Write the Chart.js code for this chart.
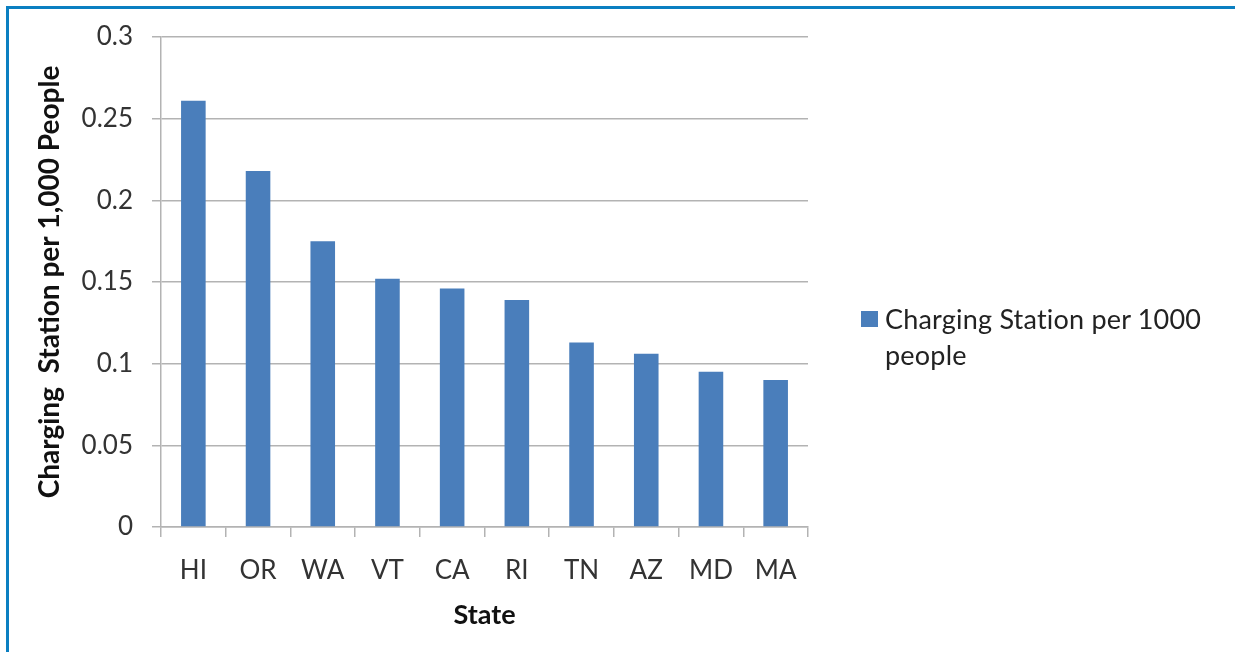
<!DOCTYPE html>
<html>
<head>
<meta charset="utf-8">
<script src="https://cdn.jsdelivr.net/npm/chart.js@4.4.0/dist/chart.umd.min.js"></script>
<style>
  html, body { margin: 0; padding: 0; background: #fff; }
  #wrap { position: relative; width: 1235px; height: 652px; overflow: hidden; }
  #frame { position: absolute; left: 6px; top: 6px; width: 1300px; height: 700px;
           border-top: 3px solid #0b7fc1; border-left: 3px solid #0b7fc1; box-sizing: border-box; }
  canvas { position: absolute; left: 0; top: 0; }
  #legend { position: absolute; left: 861px; top: 301px; font-family: Lato, sans-serif;
            font-size: 27px; color: #222; line-height: 36px; letter-spacing: 0.2px; }
  #legend .sw { position: absolute; left: 0; top: 10px; width: 17px; height: 16px; background: #4a7ebb; }
  #legend .tx { margin-left: 24px; }
</style>
</head>
<body>
<div id="wrap">
  <div id="frame"></div>
  <canvas id="c" width="1235" height="652"></canvas>
  <div id="legend"><div class="sw"></div><div class="tx">Charging Station per 1000<br>people</div></div>
</div>
<script>
const categories = ["HI", "OR", "WA", "VT", "CA", "RI", "TN", "AZ", "MD", "MA"];
const values = [0.261, 0.218, 0.175, 0.152, 0.146, 0.139, 0.113, 0.106, 0.095, 0.090];
const seriesName = "Charging Station per 1000 people";
const yTicks = [0, 0.05, 0.1, 0.15, 0.2, 0.25, 0.3];
const xTitle = "State";
const yTitle = "Charging  Station per 1,000 People";

const gridColor = "#b3b3b3";
new Chart(document.getElementById("c"), {
  type: "bar",
  data: {
    labels: categories,
    datasets: [{
      label: seriesName,
      data: values,
      backgroundColor: "#4a7ebb",
      borderWidth: 0,
      categoryPercentage: 1.0,
      barPercentage: 0.38
    }]
  },
  options: {
    responsive: false,
    animation: false,
    devicePixelRatio: 1,
    layout: { padding: { top: 37, right: 427, bottom: 0, left: 0 } },
    plugins: { legend: { display: false }, tooltip: { enabled: false } },
    scales: {
      x: {
        afterFit: s => { s.height = 652 - 527; },
        grid: { display: true, offset: true, drawOnChartArea: false, drawTicks: true, tickLength: 10, color: gridColor, lineWidth: 1.5 },
        border: { display: true, color: gridColor, width: 1.5 },
        ticks: { color: "#333", padding: 18, font: { family: "Lato", size: 26 } },
        title: { display: true, text: xTitle, color: "#111", padding: { top: 0, bottom: 21 }, font: { family: "Lato", size: 27, weight: "bold" } }
      },
      y: {
        min: 0, max: 0.3,
        afterFit: s => { s.width = 161; },
        afterBuildTicks: s => { s.ticks = yTicks.map(v => ({ value: v })); },
        grid: { color: gridColor, lineWidth: 1.5, tickLength: 9 },
        border: { display: true, color: gridColor, width: 1.5 },
        ticks: { color: "#333", padding: 19, font: { family: "Lato", size: 26 }, callback: v => String(v) },
        title: { display: true, text: yTitle, color: "#111", padding: { top: 33, bottom: 0 }, font: { family: "Lato", size: 28, weight: "bold" } }
      }
    }
  }
});
</script>
</body>
</html>
